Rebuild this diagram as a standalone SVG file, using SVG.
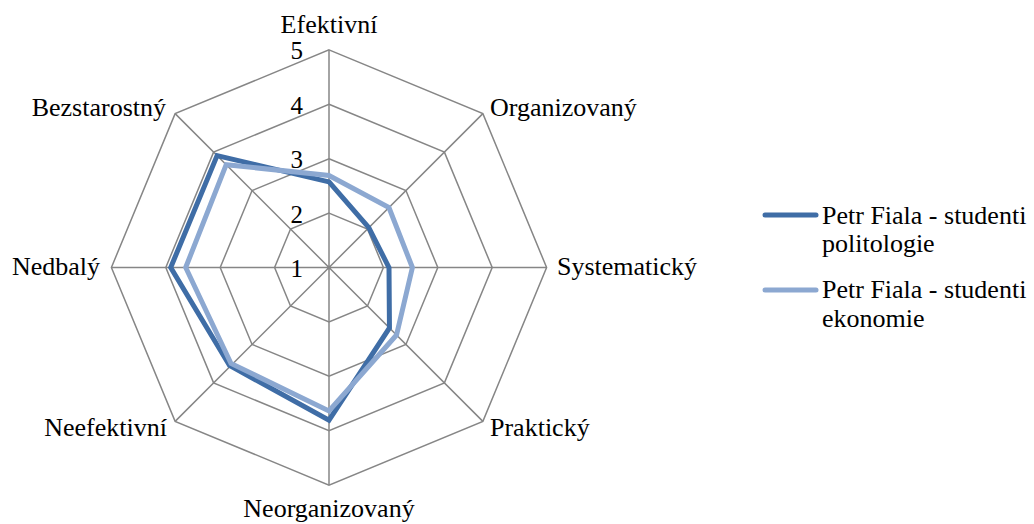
<svg xmlns="http://www.w3.org/2000/svg" width="1034" height="524" viewBox="0 0 1034 524">
  <style>
    .grid { fill: none; stroke: #868686; stroke-width: 1.5; }
    .lbl { font-family: "Liberation Serif", "Times New Roman", serif; font-size: 26px; fill: #000; }
    .num { font-family: "Liberation Serif", "Times New Roman", serif; font-size: 25px; fill: #000; text-anchor: end; }
    .s1 { fill: none; stroke: #3F6DA6; stroke-width: 5; stroke-linejoin: miter; }
    .s2 { fill: none; stroke: #8CA8D1; stroke-width: 5; stroke-linejoin: miter; }
  </style>
  <rect width="1034" height="524" fill="#fff"/>

  <!-- radar grid: rings for values 2..5 and the eight spokes -->
  <g id="grid">
    <polygon class="grid" points="329,213.1 367.47,229.03 383.4,267.5 367.47,305.97 329,321.9 290.53,305.97 274.6,267.5 290.53,229.03"/>
    <polygon class="grid" points="329,158.7 405.93,190.57 437.8,267.5 405.93,344.43 329,376.3 252.07,344.43 220.2,267.5 252.07,190.57"/>
    <polygon class="grid" points="329,104.3 444.4,152.1 492.2,267.5 444.4,382.9 329,430.7 213.6,382.9 165.8,267.5 213.6,152.1"/>
    <polygon class="grid" points="329,49.9 482.87,113.63 546.6,267.5 482.87,421.37 329,485.1 175.13,421.37 111.4,267.5 175.13,113.63"/>
    <path class="grid" d="M329,267.5 L329,49.9 M329,267.5 L482.87,113.63 M329,267.5 L546.6,267.5 M329,267.5 L482.87,421.37 M329,267.5 L329,485.1 M329,267.5 L175.13,421.37 M329,267.5 L111.4,267.5 M329,267.5 L175.13,113.63"/>
  </g>

  <!-- value scale on the vertical axis -->
  <g id="scale">
    <text class="num" x="303" y="59">5</text>
    <text class="num" x="303" y="114">4</text>
    <text class="num" x="303" y="168">3</text>
    <text class="num" x="303" y="223">2</text>
    <text class="num" x="303" y="277">1</text>
  </g>

  <!-- category labels -->
  <g id="categories">
    <text class="lbl" x="329" y="33" text-anchor="middle">Efektivní</text>
    <text class="lbl" x="490" y="116">Organizovaný</text>
    <text class="lbl" x="557" y="275">Systematický</text>
    <text class="lbl" x="490" y="436">Praktický</text>
    <text class="lbl" x="329" y="517" text-anchor="middle">Neorganizovaný</text>
    <text class="lbl" x="167" y="436" text-anchor="end">Neefektivní</text>
    <text class="lbl" x="100" y="275" text-anchor="end">Nedbalý</text>
    <text class="lbl" x="166" y="116" text-anchor="end">Bezstarostný</text>
  </g>

  <!-- data series -->
  <g id="series">
    <polygon id="politologie" class="s1" points="329,181.9 368.8,227.7 389,267.5 389.46,327.96 329,420.2 229.5,365.5 170.7,267.5 217.1,155.6"/>
    <polygon id="ekonomie" class="s2" points="329,175.5 388.96,207.54 412.4,267.5 396.53,335.03 329,410.9 231,363.5 185.7,267.5 226.2,164.7"/>
  </g>

  <!-- legend -->
  <g id="legend">
    <line x1="765" y1="215" x2="816" y2="215" stroke="#3F6DA6" stroke-width="5" stroke-linecap="round"/>
    <text class="lbl" x="822" y="224">Petr Fiala - studenti</text>
    <text class="lbl" x="822" y="252">politologie</text>
    <line x1="765" y1="290" x2="816" y2="290" stroke="#8CA8D1" stroke-width="5" stroke-linecap="round"/>
    <text class="lbl" x="822" y="298">Petr Fiala - studenti</text>
    <text class="lbl" x="822" y="327">ekonomie</text>
  </g>
</svg>
